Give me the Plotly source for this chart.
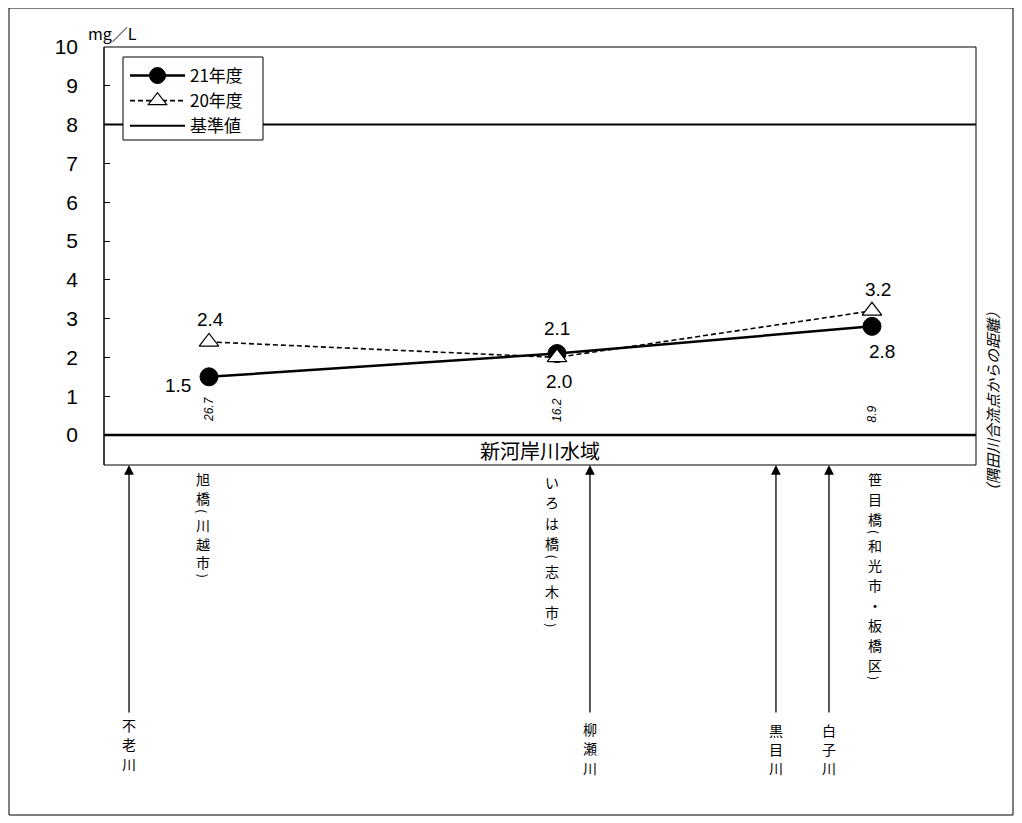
import plotly.graph_objects as go

# ---------------- data ----------------
station_names = ["旭橋（川越市）", "いろは橋（志木市）", "笹目橋（和光市・板橋区）"]
station_distance = ["26.7", "16.2", "8.9"]          # km from the Sumida River confluence
station_pos = [12.04, 51.95, 88.07]                 # position along the schematic (0-100)
fy21_values = [1.5, 2.1, 2.8]                       # 21年度
fy20_values = [2.4, 2.0, 3.2]                       # 20年度
standard_value = 8                                  # 基準値
tributary_names = ["不老川", "柳瀬川", "黒目川", "白子川"]
tributary_pos = [2.87, 55.73, 77.06, 83.14]
y_tick_values = [0, 1, 2, 3, 4, 5, 6, 7, 8, 9, 10]
water_area = "新河岸川水域"
unit_label = "mg／L"
distance_note = "（隅田川合流点からの距離）"

# ---------------- layout constants ----------------
OFF = 8                      # page body margin
PAGE_W, PAGE_H = 1022, 823
W, H = PAGE_W - OFF, PAGE_H - OFF
PLOT_L, PLOT_R, PLOT_T, PLOT_B = 104, 976, 47, 823   # page pixels
ML, MR, MT, MB = PLOT_L - OFF, PAGE_W - PLOT_R, PLOT_T - OFF, 0
X_RANGE = [0, 100]
Y_RANGE = [-10, 10]
PLOT_W = PLOT_R - PLOT_L
PLOT_H = PLOT_B - PLOT_T
PX_Y = PLOT_H / (Y_RANGE[1] - Y_RANGE[0])
PX_X = PLOT_W / (X_RANGE[1] - X_RANGE[0])


def y_at(py):
    return Y_RANGE[1] - (py - PLOT_T) / PX_Y


def x_at(px):
    return X_RANGE[0] + (px - PLOT_L) / PX_X


def xp(px):
    return (px - PLOT_L) / PLOT_W


def yp(py):
    return (PLOT_B - py) / PLOT_H


JP = "Noto Sans CJK JP"
NUM = "Liberation Sans, Arial, sans-serif"
BLACK = "#000000"

BOX_BOTTOM = y_at(465)
ARROW_TAIL = y_at(714)

fig = go.Figure()

fig.add_trace(go.Scatter(
    x=[X_RANGE[0], X_RANGE[1]], y=[standard_value, standard_value],
    mode="lines", name="基準値", legendrank=3,
    line=dict(color=BLACK, width=2), hoverinfo="skip", cliponaxis=False))

fig.add_trace(go.Scatter(
    x=station_pos, y=fy21_values, mode="lines+markers", name="21年度", legendrank=1,
    line=dict(color=BLACK, width=2.5),
    marker=dict(symbol="circle", size=18, color=BLACK, line=dict(color=BLACK, width=1)),
    cliponaxis=False))

fig.add_trace(go.Scatter(
    x=station_pos, y=fy20_values, mode="lines+markers", name="20年度", legendrank=2,
    line=dict(color=BLACK, width=1.6, dash="5px,3px"),
    marker=dict(symbol="triangle-up", size=17, color="white", line=dict(color=BLACK, width=1.2)),
    cliponaxis=False))

annotations = []

# data labels
fy21_shift = [(-31, -9), (0, 25), (10, -25)]
fy20_shift = [(2, 22), (2, -24), (6, 21)]
for xs, vals, shifts in ((station_pos, fy21_values, fy21_shift), (station_pos, fy20_values, fy20_shift)):
    for x, v, (dx, dy) in zip(xs, vals, shifts):
        annotations.append(dict(x=x, y=v, text=f"{v:.1f}", showarrow=False, xshift=dx, yshift=dy,
                                xanchor="center", yanchor="middle",
                                font=dict(family=NUM, size=19, color=BLACK)))

# distance labels (rotated)
for x, d in zip(station_pos, station_distance):
    annotations.append(dict(x=x, y=y_at(424), text=f"<i>{d}</i>", showarrow=False, textangle=-90,
                            xanchor="center", yanchor="bottom",
                            font=dict(family=NUM, size=12, color=BLACK)))

# unit label
annotations.append(dict(x=xp(112), y=yp(33), xref="paper", yref="paper", text=unit_label,
                        showarrow=False, xanchor="center", yanchor="middle",
                        font=dict(family=JP, size=16, color=BLACK)))

# water area label
annotations.append(dict(x=(X_RANGE[0] + X_RANGE[1]) / 2, y=(0 + BOX_BOTTOM) / 2, text=water_area,
                        showarrow=False, xanchor="center", yanchor="middle",
                        font=dict(family=JP, size=20, color=BLACK)))

# right-hand note
annotations.append(dict(x=xp(992), y=yp(401), xref="paper", yref="paper", text=f"<i>{distance_note}</i>",
                        showarrow=False, textangle=-90, xanchor="center", yanchor="middle",
                        font=dict(family=JP, size=15, color=BLACK)))

# vertical station labels, one character at a time (brackets turned for vertical writing)
PARENS = {"（": "(", "）": ")"}
station_label_x = [x_at(203), x_at(552), x_at(875)]
station_first = [479, 481.5, 479]
station_adv = [(18.5, 9), (20.5, 7), (20, 6)]
for name, lx, y0, (full, half) in zip(station_names, station_label_x, station_first, station_adv):
    cy = y0
    prev = None
    for ch in name:
        is_paren = ch in PARENS
        adv = half if is_paren else full
        if prev is not None:
            cy += prev / 2 + adv / 2
        annotations.append(dict(x=lx, y=y_at(cy), text=PARENS.get(ch, ch), showarrow=False,
                                textangle=90 if is_paren else 0,
                                xanchor="center", yanchor="middle",
                                font=dict(family=JP, size=12 if is_paren else 14, color=BLACK)))
        prev = adv

# tributary arrows and labels
trib_first = [725, 729, 729.5, 729.5]
for name, tx, y0 in zip(tributary_names, tributary_pos, trib_first):
    annotations.append(dict(x=tx, y=BOX_BOTTOM, ax=tx, ay=ARROW_TAIL, axref="x", ayref="y",
                            text="", showarrow=True, arrowhead=2, arrowsize=1.5, arrowwidth=1.3,
                            arrowcolor=BLACK, standoff=0))
    for i, ch in enumerate(name):
        annotations.append(dict(x=tx, y=y_at(y0 + i * 19.4), text=ch, showarrow=False,
                                xanchor="center", yanchor="middle",
                                font=dict(family=JP, size=14, color=BLACK)))

shapes = [
    # outer chart frame
    dict(type="rect", xref="paper", yref="paper", x0=xp(9), x1=xp(1013), y0=yp(815), y1=yp(8),
         line=dict(color=BLACK, width=1), layer="below"),
    # plot area top
    dict(type="line", xref="paper", yref="paper", x0=0, x1=1, y0=1, y1=1,
         line=dict(color=BLACK, width=1)),
    # plot area right side (down to the box bottom)
    dict(type="line", xref="paper", yref="y", x0=1, x1=1, y0=BOX_BOTTOM, y1=Y_RANGE[1],
         line=dict(color=BLACK, width=1)),
    # y axis line
    dict(type="line", xref="paper", yref="y", x0=0, x1=0, y0=BOX_BOTTOM, y1=Y_RANGE[1],
         line=dict(color=BLACK, width=1.5)),
    # water area box bottom
    dict(type="line", xref="paper", yref="y", x0=0, x1=1, y0=BOX_BOTTOM, y1=BOX_BOTTOM,
         line=dict(color=BLACK, width=1)),
    # x axis (value 0)
    dict(type="line", xref="paper", yref="y", x0=0, x1=1, y0=0, y1=0,
         line=dict(color=BLACK, width=2.5)),
    # legend frame (white, drawn over the 基準値 line)
    dict(type="rect", xref="paper", yref="paper", x0=xp(123), x1=xp(263), y0=yp(140), y1=yp(57),
         line=dict(color=BLACK, width=1), fillcolor="white", layer="above"),
]

fig.update_layout(
    width=W, height=H,
    margin=dict(l=ML, r=MR, t=MT, b=MB, pad=0),
    paper_bgcolor="white", plot_bgcolor="white",
    showlegend=True,
    legend=dict(x=xp(125), y=yp(58), xanchor="left", yanchor="top",
                bgcolor="rgba(0,0,0,0)", borderwidth=0,
                font=dict(family=JP, size=17, color=BLACK),
                tracegroupgap=0, itemwidth=55),
    xaxis=dict(range=X_RANGE, visible=False, fixedrange=True),
    yaxis=dict(range=Y_RANGE, tickvals=y_tick_values, ticktext=[str(v) for v in y_tick_values],
               ticks="inside", ticklen=6, tickwidth=1, tickcolor=BLACK,
               showgrid=False, zeroline=False, showline=False,
               ticklabelstandoff=25,
               tickfont=dict(family=NUM, size=21, color=BLACK), fixedrange=True),
    annotations=annotations,
    shapes=shapes,
)

fig.write_html("out.html")
